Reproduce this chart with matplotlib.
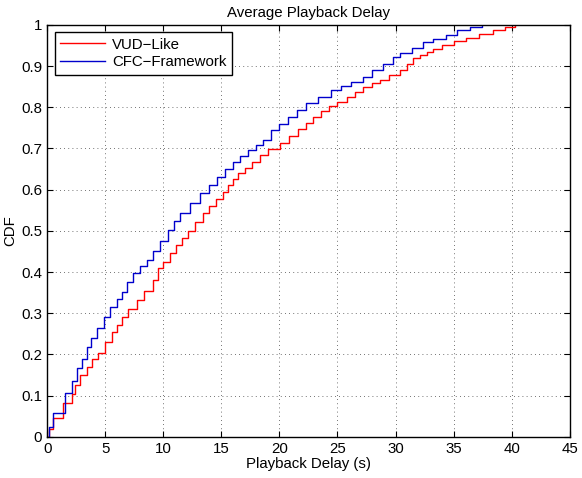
import matplotlib
matplotlib.use('Agg')
import matplotlib.pyplot as plt

plt.rcParams['font.family'] = ['Liberation Sans', 'DejaVu Sans']

# CDF breakpoints (delay in s, cumulative fraction)
vud_x = [0, 0.2, 0.5, 1.4, 2.1, 2.4, 2.8, 3.4, 3.9, 4.4, 5.0, 5.6, 6.0, 6.45, 7.0, 7.7, 8.3,
         9.1, 9.55, 10.0, 10.6, 11.1, 11.6, 12.1, 12.7, 13.4, 13.9, 14.5, 15.1, 15.6, 16.0,
         16.4, 17.0, 17.6, 18.3, 19.0, 20.05, 20.8, 21.6, 22.3, 22.9, 23.6, 24.3, 25.0, 25.8,
         26.5, 27.2, 28.0, 28.7, 29.4, 30.4, 31.0, 31.5, 32.1, 32.7, 33.2, 34.0, 35.0, 36.1,
         37.2, 38.4, 39.4, 40.3]
vud_y = [0, 0.02, 0.046, 0.083, 0.105, 0.126, 0.15, 0.17, 0.188, 0.204, 0.23, 0.255, 0.272,
         0.29, 0.31, 0.333, 0.355, 0.38, 0.41, 0.425, 0.447, 0.465, 0.483, 0.50, 0.522, 0.544,
         0.56, 0.578, 0.595, 0.612, 0.627, 0.64, 0.653, 0.668, 0.683, 0.698, 0.714, 0.73,
         0.748, 0.762, 0.777, 0.79, 0.803, 0.813, 0.825, 0.837, 0.848, 0.858, 0.867, 0.878,
         0.89, 0.905, 0.92, 0.928, 0.935, 0.942, 0.95, 0.96, 0.968, 0.978, 0.988, 0.995, 1.0]

cfc_x = [0, 0.2, 0.5, 1.55, 2.15, 2.6, 3.0, 3.4, 3.8, 4.3, 4.9, 5.4, 6.0, 6.45, 6.9, 7.4, 8.0,
         8.6, 9.1, 9.7, 10.4, 10.9, 11.45, 12.3, 13.2, 13.9, 14.6, 15.3, 16.0, 16.6, 17.3,
         18.0, 18.6, 19.3, 20.0, 20.7, 21.5, 22.3, 23.3, 24.4, 25.3, 26.2, 27.2, 28.0, 28.9,
         29.8, 30.4, 31.4, 32.4, 33.2, 34.3, 35.3, 36.4, 37.4]
cfc_y = [0, 0.025, 0.058, 0.107, 0.135, 0.167, 0.19, 0.218, 0.24, 0.265, 0.29, 0.316, 0.335,
         0.352, 0.375, 0.398, 0.415, 0.43, 0.45, 0.475, 0.502, 0.523, 0.544, 0.568, 0.592,
         0.612, 0.631, 0.65, 0.667, 0.682, 0.697, 0.708, 0.72, 0.745, 0.76, 0.777, 0.794,
         0.81, 0.826, 0.842, 0.852, 0.862, 0.874, 0.89, 0.905, 0.922, 0.932, 0.945, 0.959,
         0.965, 0.975, 0.988, 0.995, 1.0]

fig = plt.figure(figsize=(5.82, 4.78), dpi=100)
ax = fig.add_axes([0.081, 0.086, 0.898, 0.862])

ax.step(vud_x, vud_y, where='post', color='#ff0000', lw=1.0, label='VUD\u2212Like')
ax.step(cfc_x, cfc_y, where='post', color='#0000cc', lw=1.0, label='CFC\u2212Framework')

ax.set_xlim(0, 45)
ax.set_ylim(0, 1)
ax.set_xticks(range(0, 46, 5))
ax.set_yticks([i / 10 for i in range(11)])
ax.set_yticklabels(['0'] + ['%.1f' % (i / 10) for i in range(1, 10)] + ['1'])
ax.grid(True, color='#444444', linestyle=(0, (1, 4)), linewidth=0.6)
ax.tick_params(direction='in', top=True, right=True, labelsize=10.8, length=4)
for s in ax.spines.values():
    s.set_linewidth(1.0)

ax.set_xlabel('Playback Delay (s)', fontsize=10.8, labelpad=1)
ax.set_ylabel('CDF', fontsize=10.8, labelpad=3)
ax.set_title('Average Playback Delay', fontsize=10.8, pad=6)

leg = ax.legend(loc='upper left', fontsize=10.8, fancybox=False, edgecolor='black',
                framealpha=1, borderaxespad=0.5, handlelength=3.0, borderpad=0.35,
                labelspacing=0.25, handletextpad=0.5)
leg.get_frame().set_linewidth(1.0)

fig.savefig('out.png', dpi=100)
